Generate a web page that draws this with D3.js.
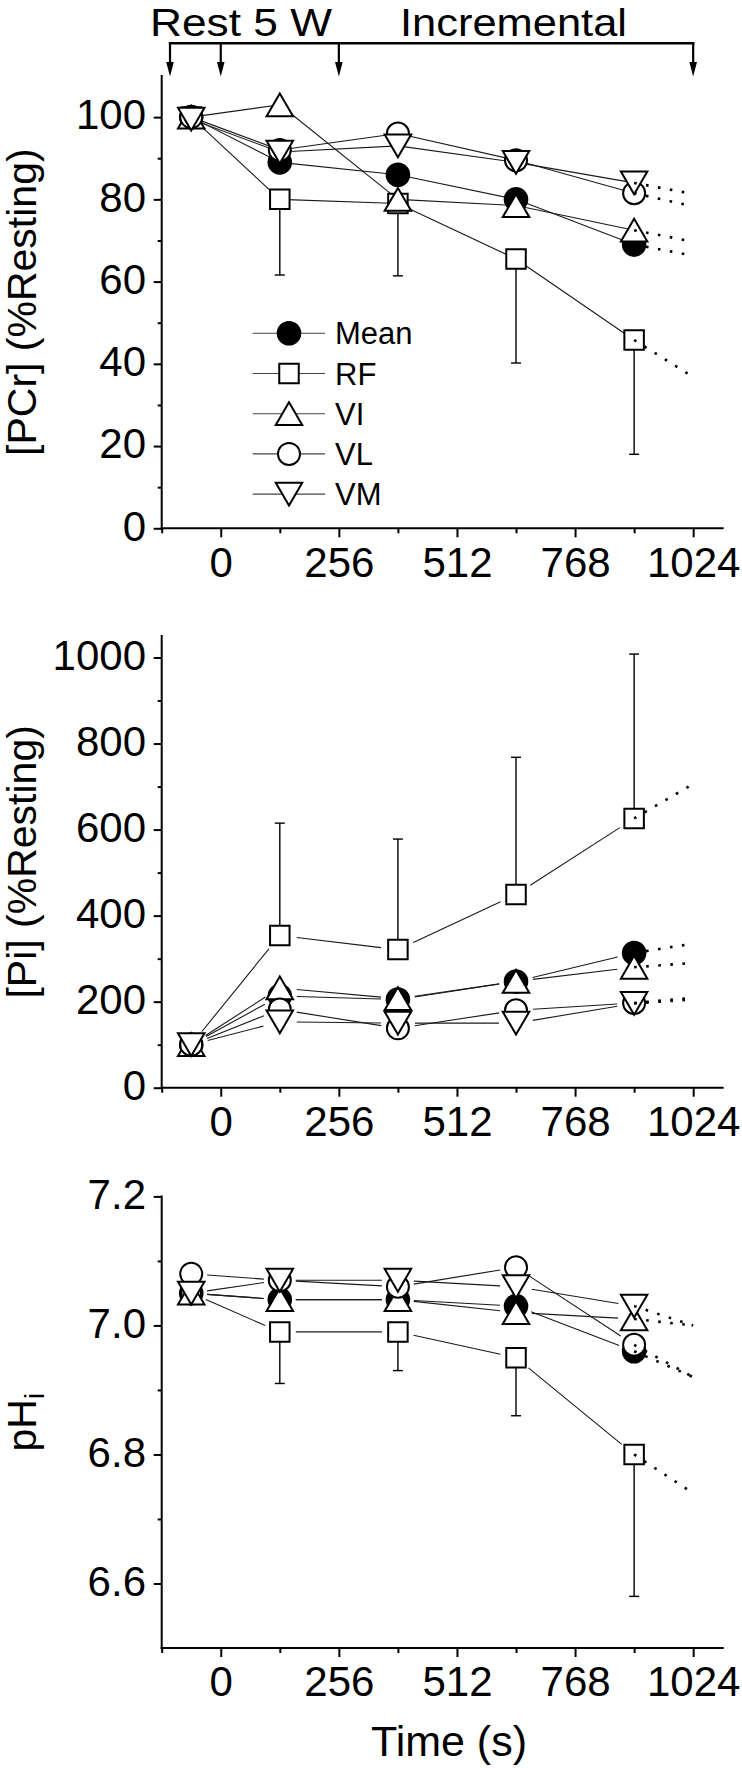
<!DOCTYPE html>
<html><head><meta charset="utf-8">
<script src="https://cdn.jsdelivr.net/npm/d3@7"></script>
<style>body{margin:0;background:#fff}svg{display:block;background:#fff}</style>
</head><body><svg id="c" width="742" height="1768"></svg>
<script>
// ---------------- data ----------------
const times = [-64, 128, 384, 640, 896];
const extTime = 1024;
const seriesNames = ["Mean", "RF", "VI", "VL", "VM"];
const xMajorTicks = [0, 256, 512, 768, 1024];
const xMinorTicks = [-128, 128, 384, 640, 896];
const phaseArrowTimes = [-110, 0, 256, 1024];
const phaseLabels = ["Rest 5 W", "Incremental"];

// [PCr] (%Resting)
const pcrMean = [100, 89, 86, 80, 69];
const pcrRF   = [100, 80, 79, 65.5, 45.8];
const pcrVI   = [100, 103, 80, 78.5, 72.5];
const pcrVL   = [100, 92, 96, 89.5, 81.5];
const pcrVM   = [99.5, 91.5, 93, 89, 84];
const pcrRFsd = [0, 18.4, 17.6, 25.3, 27.8];
const pcrExt  = [66.3, 36.8, 69.7, 78.3, 81.3];
const pcrTicks = [0, 20, 40, 60, 80, 100];
const pcrMinor = [10, 30, 50, 70, 90];

// [Pi] (%Resting)
const piMean = [100, 213, 205, 247, 313];
const piRF   = [100, 354, 321, 449, 626];
const piVI   = [100, 232, 207, 247, 280];
const piVL   = [100, 182, 138, 180, 197];
const piVM   = [100, 153, 150, 150, 196];
const piRFsd = [0, 261, 257, 319, 382];
const piExt  = [335, 706, 290, 209, 205];
const piTicks = [0, 200, 400, 600, 800, 1000];
const piMinor = [100, 300, 500, 700, 900];

// pHi
const phMean = [7.05, 7.04, 7.04, 7.03, 6.96];
const phRF   = [7.05, 6.99, 6.99, 6.95, 6.80];
const phVI   = [7.05, 7.04, 7.04, 7.02, 7.01];
const phVL   = [7.08, 7.07, 7.06, 7.09, 6.97];
const phVM   = [7.05, 7.07, 7.07, 7.06, 7.03];
const phRFsd = [0, 0.08, 0.06, 0.09, 0.22];
const phExt  = [6.92, 6.74, 7.00, 6.92, 7.00];
const phTicks = [6.6, 6.8, 7.0, 7.2];
const phMinor = [6.7, 6.9, 7.1];

// ---------------- layout ----------------
const FONT = "'Liberation Sans', Arial, Helvetica, sans-serif";
const svg = d3.select("#c");
const x = d3.scaleLinear().domain([-128, 1088]).range([161.7, 722.7]);

const triUp = {draw(ctx, size){const w=Math.sqrt(size),h=w*0.86;ctx.moveTo(0,-h/2);ctx.lineTo(w/2,h/2);ctx.lineTo(-w/2,h/2);ctx.closePath();}};
const triDown = {draw(ctx, size){const w=Math.sqrt(size),h=w*0.86;ctx.moveTo(0,h/2);ctx.lineTo(w/2,-h/2);ctx.lineTo(-w/2,-h/2);ctx.closePath();}};
const symbolDefs = {
  Mean: {type: d3.symbolCircle, size: Math.PI*11.3*11.3, fill: "#000"},
  RF:   {type: d3.symbolSquare, size: 19.5*19.5, fill: "#fff"},
  VI:   {type: triUp, size: 26.5*26.5, fill: "#fff"},
  VL:   {type: d3.symbolCircle, size: Math.PI*11*11, fill: "#fff"},
  VM:   {type: triDown, size: 26.5*26.5, fill: "#fff"}
};

const panels = [
  {data:[pcrMean,pcrRF,pcrVI,pcrVL,pcrVM], sd:pcrRFsd, sdDir:-1, ext:pcrExt, domain:[0,110], range:[528.3,76],
   ticks:pcrTicks, minor:pcrMinor, fmt:d3.format("d"), gap:0, title:"[PCr] (%Resting)"},
  {data:[piMean,piRF,piVI,piVL,piVM], sd:piRFsd, sdDir:1, ext:piExt, domain:[0,1050], range:[1087.7,636],
   ticks:piTicks, minor:piMinor, fmt:d3.format("d"), gap:17, title:"[Pi] (%Resting)"},
  {data:[phMean,phRF,phVI,phVL,phVM], sd:phRFsd, sdDir:-1, ext:phExt, domain:[6.5,7.2], range:[1648,1196.4],
   ticks:phTicks, minor:phMinor, fmt:d3.format(".1f"), gap:16, title:"pH"}
];

function styleText(sel, size){ sel.attr("font-family", FONT).attr("font-size", size).attr("fill", "#000"); }

panels.forEach((p, pi) => {
  const y = d3.scaleLinear().domain(p.domain).range(p.range);
  const g = svg.append("g");

  // x axis
  const xa = g.append("g").attr("transform", `translate(0,${p.range[0]})`);
  xa.call(d3.axisBottom(x).tickValues(xMajorTicks).tickFormat(d3.format("d")).tickSize(9).tickSizeOuter(0).tickPadding(9.6));
  xa.select(".domain").remove();
  xa.selectAll(".tick line").attr("stroke", "#000").attr("stroke-width", 2);
  xa.selectAll(".tick text").call(styleText, 42);
  const xm = g.append("g").attr("transform", `translate(0,${p.range[0]})`);
  xm.call(d3.axisBottom(x).tickValues(xMinorTicks).tickSize(5).tickSizeOuter(0).tickFormat(""));
  xm.select(".domain").remove();
  xm.selectAll(".tick line").attr("stroke", "#000").attr("stroke-width", 2);
  g.append("line").attr("x1", x.range()[0]).attr("x2", x.range()[1]).attr("y1", p.range[0]).attr("y2", p.range[0])
    .attr("stroke", "#000").attr("stroke-width", 2).attr("stroke-linecap", "square");

  // y axis
  const ya = g.append("g").attr("transform", `translate(${x.range()[0]},0)`);
  ya.call(d3.axisLeft(y).tickValues(p.ticks).tickFormat(p.fmt).tickSize(8).tickSizeOuter(0).tickPadding(7.7));
  ya.select(".domain").remove();
  ya.selectAll(".tick line").attr("stroke", "#000").attr("stroke-width", 2);
  ya.selectAll(".tick text").call(styleText, 42).attr("dy", "0.28em");
  const ym = g.append("g").attr("transform", `translate(${x.range()[0]},0)`);
  ym.call(d3.axisLeft(y).tickValues(p.minor).tickSize(4).tickSizeOuter(0).tickFormat(""));
  ym.select(".domain").remove();
  ym.selectAll(".tick line").attr("stroke", "#000").attr("stroke-width", 2);
  g.append("line").attr("x1", x.range()[0]).attr("x2", x.range()[0]).attr("y1", p.range[0]).attr("y2", p.range[1])
    .attr("stroke", "#000").attr("stroke-width", 2).attr("stroke-linecap", "square");

  // y title
  const cy = (p.range[0] + p.range[1]) / 2;
  const t = g.append("text").attr("transform", `translate(36,${cy}) rotate(-90)`).attr("text-anchor", "middle")
    .call(styleText, 41).text(p.title);
  if (pi === 2) t.append("tspan").attr("font-size", 28).attr("dy", "0.3em").text("i");

  // connecting lines (with optional gap)
  p.data.forEach((vals) => {
    const pts = vals.map((v, i) => [x(times[i]), y(v)]);
    for (let i = 0; i < pts.length - 1; i++) {
      const [x1, y1] = pts[i], [x2, y2] = pts[i+1];
      const dx = x2 - x1, dy = y2 - y1, L = Math.hypot(dx, dy);
      const ux = dx / L, uy = dy / L;
      g.append("line")
        .attr("x1", x1 + ux*p.gap).attr("y1", y1 + uy*p.gap)
        .attr("x2", x2 - ux*p.gap).attr("y2", y2 - uy*p.gap)
        .attr("stroke", "#1a1a1a").attr("stroke-width", 1.1);
    }
  });

  // error bars (RF)
  const rf = p.data[1];
  p.sd.forEach((s, i) => {
    if (!s) return;
    const xx = x(times[i]);
    const yEnd = y(rf[i] + p.sdDir * s);
    g.append("line").attr("x1", xx).attr("x2", xx).attr("y1", y(rf[i])).attr("y2", yEnd)
      .attr("stroke", "#000").attr("stroke-width", 1.4);
    g.append("line").attr("x1", xx - 5).attr("x2", xx + 5).attr("y1", yEnd).attr("y2", yEnd)
      .attr("stroke", "#000").attr("stroke-width", 1.4);
  });

  // markers
  p.data.forEach((vals, si) => {
    const def = symbolDefs[seriesNames[si]];
    const sym = d3.symbol().type(def.type).size(def.size);
    vals.forEach((v, i) => {
      g.append("path").attr("d", sym()).attr("transform", `translate(${x(times[i])},${y(v)})`)
        .attr("fill", def.fill).attr("stroke", "#000").attr("stroke-width", 2);
    });
  });

  // dotted extrapolations
  p.data.forEach((vals, si) => {
    g.append("line").attr("x1", x(times[4])).attr("y1", y(vals[4]))
      .attr("x2", x(extTime)).attr("y2", y(p.ext[si]))
      .attr("stroke", "#000").attr("stroke-width", 2.6).attr("stroke-dasharray", "2.6,9.5");
  });

  // legend in top panel
  if (pi === 0) {
    const lg = g.append("g");
    seriesNames.forEach((name, k) => {
      const ry = 333.3 + k * 40.2;
      lg.append("line").attr("x1", 252.7).attr("x2", 325).attr("y1", ry).attr("y2", ry)
        .attr("stroke", "#444").attr("stroke-width", 1.1);
      const def = symbolDefs[name];
      lg.append("path").attr("d", d3.symbol().type(def.type).size(def.size)())
        .attr("transform", `translate(289,${ry})`).attr("fill", def.fill).attr("stroke", "#000").attr("stroke-width", 2);
      lg.append("text").attr("x", 335).attr("y", ry).attr("dy", "0.36em").call(styleText, 31).text(name);
    });
  }

  // x title on bottom panel
  if (pi === 2) {
    g.append("text").attr("x", 449).attr("y", 1755.8).attr("text-anchor", "middle").call(styleText, 43).text("Time (s)");
  }
});

// phase annotation on top
const ann = svg.append("g");
const bracketY = 43.3;
ann.append("line").attr("x1", x(phaseArrowTimes[0])).attr("x2", x(phaseArrowTimes[3]))
  .attr("y1", bracketY).attr("y2", bracketY).attr("stroke", "#000").attr("stroke-width", 2.5).attr("stroke-linecap", "square");
phaseArrowTimes.forEach(t => {
  const xx = x(t);
  ann.append("line").attr("x1", xx).attr("x2", xx).attr("y1", bracketY).attr("y2", 63)
    .attr("stroke", "#000").attr("stroke-width", 2.2);
  ann.append("path").attr("d", d3.line()([[xx - 3.8, 62], [xx + 3.8, 62], [xx, 76.5]]) + "Z").attr("fill", "#000");
});
ann.append("text").attr("x", 150).attr("y", 35.6).call(styleText, 39)
  .attr("textLength", 182).attr("lengthAdjust", "spacingAndGlyphs").text(phaseLabels[0]);
ann.append("text").attr("x", 400).attr("y", 35.6).call(styleText, 39)
  .attr("textLength", 227).attr("lengthAdjust", "spacingAndGlyphs").text(phaseLabels[1]);
</script></body></html>
